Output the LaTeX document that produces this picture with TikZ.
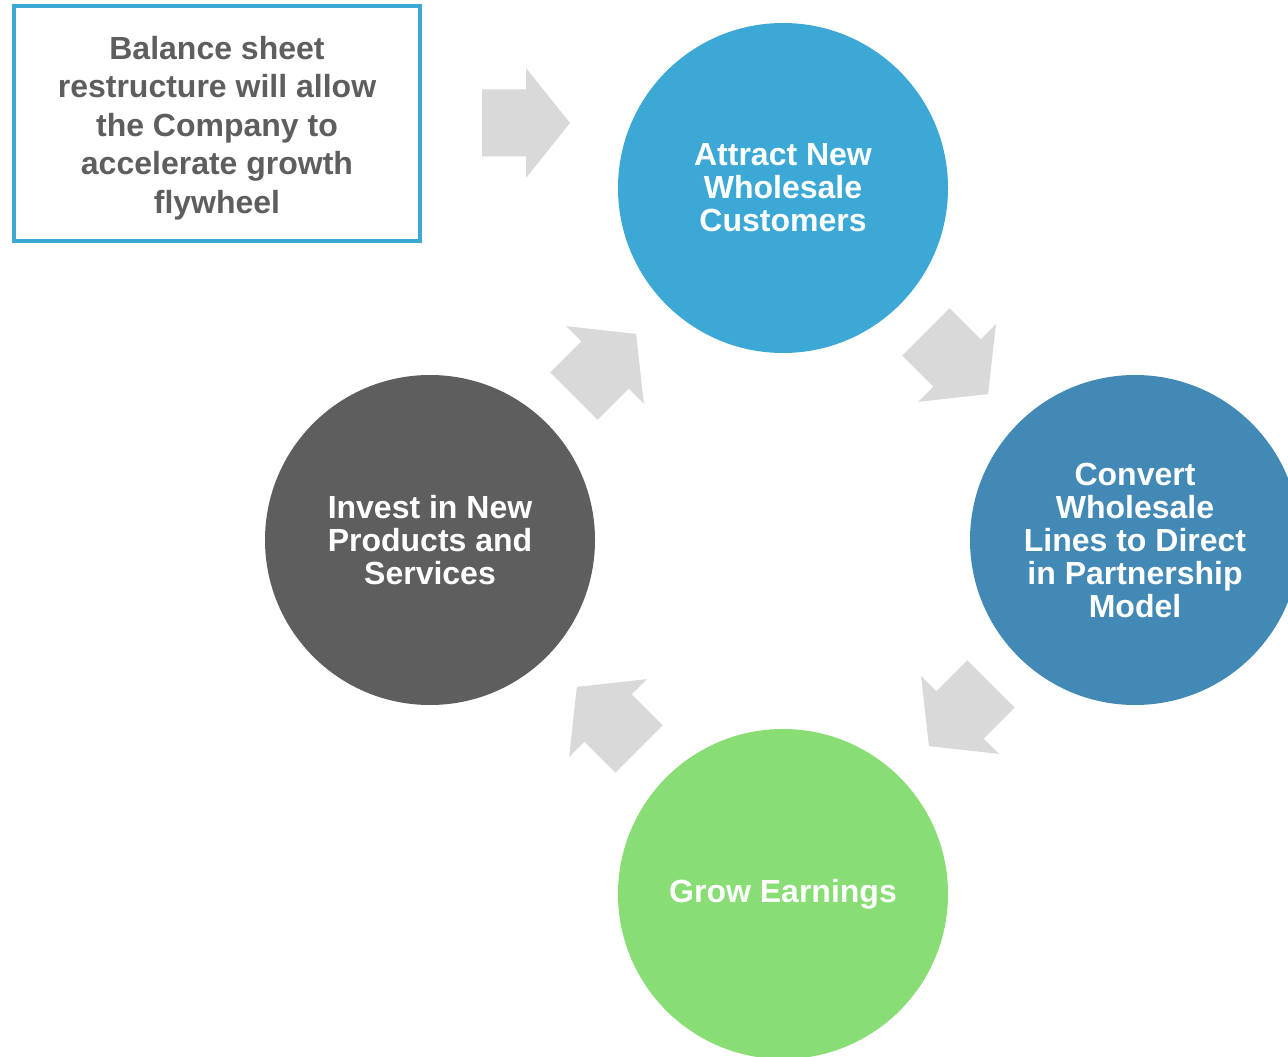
\documentclass[tikz,border=0pt]{standalone}
\usepackage{fontspec}
\setmainfont{Liberation Sans}
\definecolor{attractblue}{HTML}{3BA8D5}
\definecolor{convertblue}{HTML}{4289B5}
\definecolor{growgreen}{HTML}{88DD75}
\definecolor{investgray}{HTML}{5E5E5E}
\definecolor{arrowgray}{HTML}{D9D9D9}
\tikzset{
  hub/.style={circle, minimum size=165pt, inner sep=0pt, align=center, text=white,
    font=\fontsize{16}{16.5}\selectfont\bfseries},
  infobox/.style={draw=attractblue, line width=2pt, fill=white, minimum width=203pt,
    minimum height=117.5pt},
  infotext/.style={align=center, text=investgray, font=\fontsize{16}{19.3}\selectfont\bfseries}
  ,
  blockarrow/.pic={\fill[arrowgray] (-44,-33.5) -- (0,-33.5) -- (0,-55) -- (44,0)
    -- (0,55) -- (0,33.5) -- (-44,33.5) -- cycle;}
}
\begin{document}
\begin{tikzpicture}[x=0.5pt,y=0.5pt]
\useasboundingbox (0,0) rectangle (1288,1056);
\clip (0,0) rectangle (1288,1056);
% cycle of four steps
\node[hub, fill=attractblue] (attract) at (783,868) {Attract New\\Wholesale\\Customers};
\node[hub, fill=convertblue] (convert) at (1135,516) {Convert\\Wholesale\\Lines to Direct\\in Partnership\\Model};
\node[hub, fill=growgreen] (grow) at (783,162) {Grow Earnings};
\node[hub, fill=investgray] (invest) at (430,516) {Invest in New\\Products and\\Services};
% note box
\node[infobox] (info) at (217,932.5) {};
\node[infotext] (infotxt) at (217,928) {Balance sheet\\restructure will allow\\the Company to\\accelerate growth\\flywheel};
% arrows
\pic at (526,933) {blockarrow};
\pic[rotate=-45] at (957,693) {blockarrow};
\pic[rotate=-135] at (960,341) {blockarrow};
\pic[rotate=135] at (608,338) {blockarrow};
\pic[rotate=45] at (605,691) {blockarrow};
\end{tikzpicture}
\end{document}
